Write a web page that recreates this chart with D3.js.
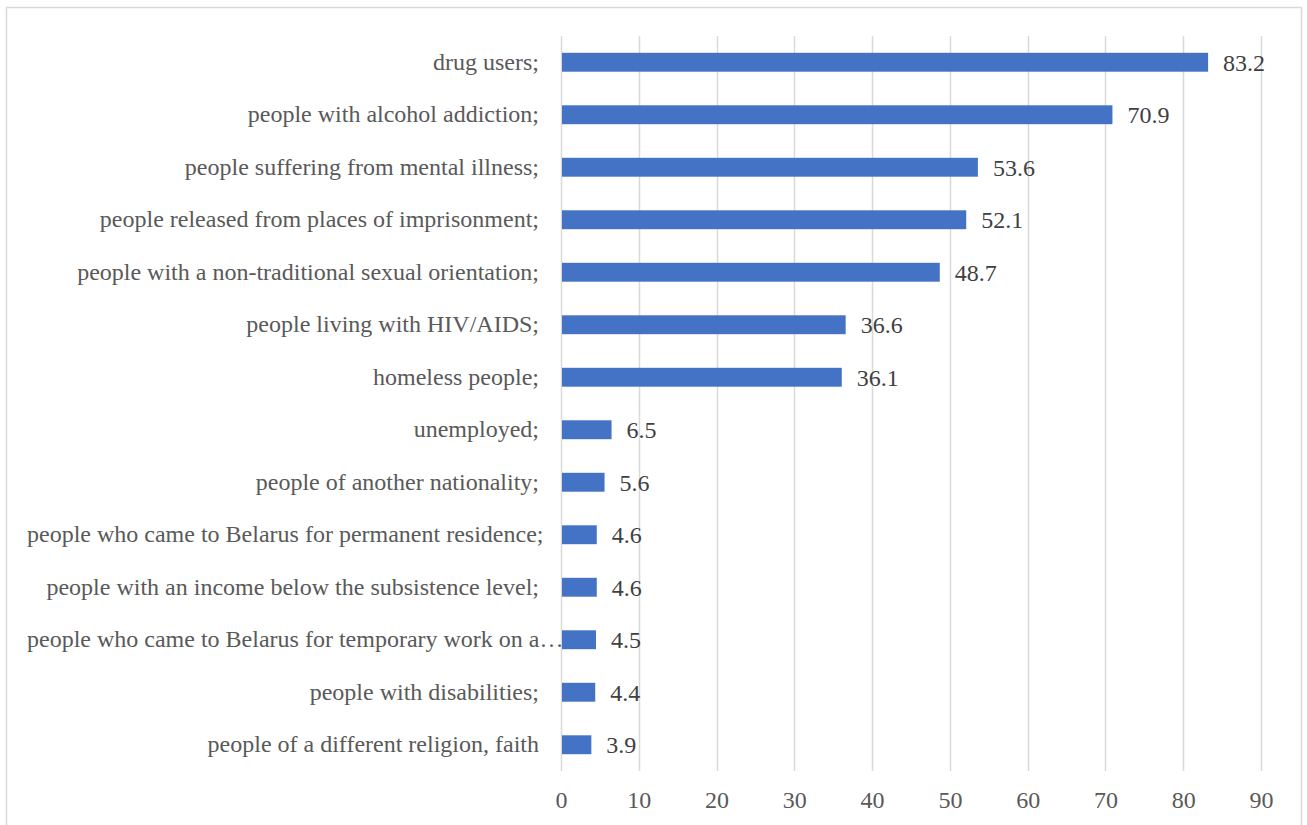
<!DOCTYPE html>
<html>
<head>
<meta charset="utf-8">
<script src="https://cdn.jsdelivr.net/npm/d3@7"></script>
<style>
  html, body { margin: 0; padding: 0; background: #fff; }
  svg { display: block; }
  svg text { font-family: "Liberation Serif", "Times New Roman", serif; }
</style>
</head>
<body>
<svg id="chart" width="1307" height="825"></svg>
<script>
// Groups and the share of respondents naming each one (%)
const categories = [
  "drug users;",
  "people with alcohol addiction;",
  "people suffering from mental illness;",
  "people released from places of imprisonment;",
  "people with a non-traditional sexual orientation;",
  "people living with HIV/AIDS;",
  "homeless people;",
  "unemployed;",
  "people of another nationality;",
  "people who came to Belarus for permanent residence;",
  "people with an income below the subsistence level;",
  "people who came to Belarus for temporary work on a…",
  "people with disabilities;",
  "people of a different religion, faith"
];
const values = [83.2, 70.9, 53.6, 52.1, 48.7, 36.6, 36.1, 6.5, 5.6, 4.6, 4.6, 4.5, 4.4, 3.9];
const tickValues = [0, 10, 20, 30, 40, 50, 60, 70, 80, 90];

const svg = d3.select("#chart");
const fontSize = "24px";

// outer frame
svg.append("rect")
  .attr("x", 6.5).attr("y", 7.5)
  .attr("width", 1295).attr("height", 830)
  .attr("fill", "#fff")
  .attr("stroke", "#d9d9d9").attr("stroke-width", 1.5);

const plot = { left: 561, right: 1261, top: 36, bottom: 771 };

const x = d3.scaleLinear().domain([0, 90]).range([plot.left, plot.right]);
const y = d3.scaleBand().domain(categories).range([plot.top, plot.bottom]).paddingInner(0.64).paddingOuter(0.32);

// vertical gridlines
svg.append("g")
  .selectAll("line")
  .data(tickValues)
  .join("line")
  .attr("x1", d => Math.round(x(d)) + 0.5)
  .attr("x2", d => Math.round(x(d)) + 0.5)
  .attr("y1", plot.top)
  .attr("y2", plot.bottom)
  .attr("stroke", "#d9d9d9")
  .attr("stroke-width", 1.5);

// bars
svg.append("g")
  .selectAll("rect")
  .data(values)
  .join("rect")
  .attr("x", x(0) + 1)
  .attr("y", (d, i) => y(categories[i]))
  .attr("width", d => x(d) - x(0) - 1)
  .attr("height", y.bandwidth())
  .attr("fill", "#4472c4");

// value labels
svg.append("g")
  .selectAll("text")
  .data(values)
  .join("text")
  .attr("x", d => x(d) + 15)
  .attr("y", (d, i) => y(categories[i]) + y.bandwidth() / 2)
  .attr("dy", "0.35em")
  .style("font-size", fontSize)
  .attr("fill", "#404040")
  .text(d => d.toFixed(1));

// category axis
const yAxis = d3.axisLeft(y).tickSize(0).tickPadding(22);
const gy = svg.append("g")
  .attr("transform", `translate(${plot.left},0)`)
  .call(yAxis)
  .attr("font-family", null)
  .attr("font-size", null);
gy.select(".domain").remove();
gy.selectAll("text")
  .style("font-size", fontSize)
  .attr("fill", "#595959");

// truncated labels that would run past the frame are pushed right up against the bar
gy.selectAll("text").each(function () {
  const b = this.getBBox();
  const left = plot.left + b.x;
  if (left < 27) d3.select(this).attr("dx", 27 - left);
});

// value axis
const xAxis = d3.axisBottom(x).tickValues(tickValues).tickSize(0).tickPadding(20);
const gx = svg.append("g")
  .attr("transform", `translate(0,${plot.bottom})`)
  .call(xAxis)
  .attr("font-family", null)
  .attr("font-size", null);
gx.select(".domain").remove();
gx.selectAll("text")
  .style("font-size", fontSize)
  .attr("fill", "#595959");
</script>
</body>
</html>
